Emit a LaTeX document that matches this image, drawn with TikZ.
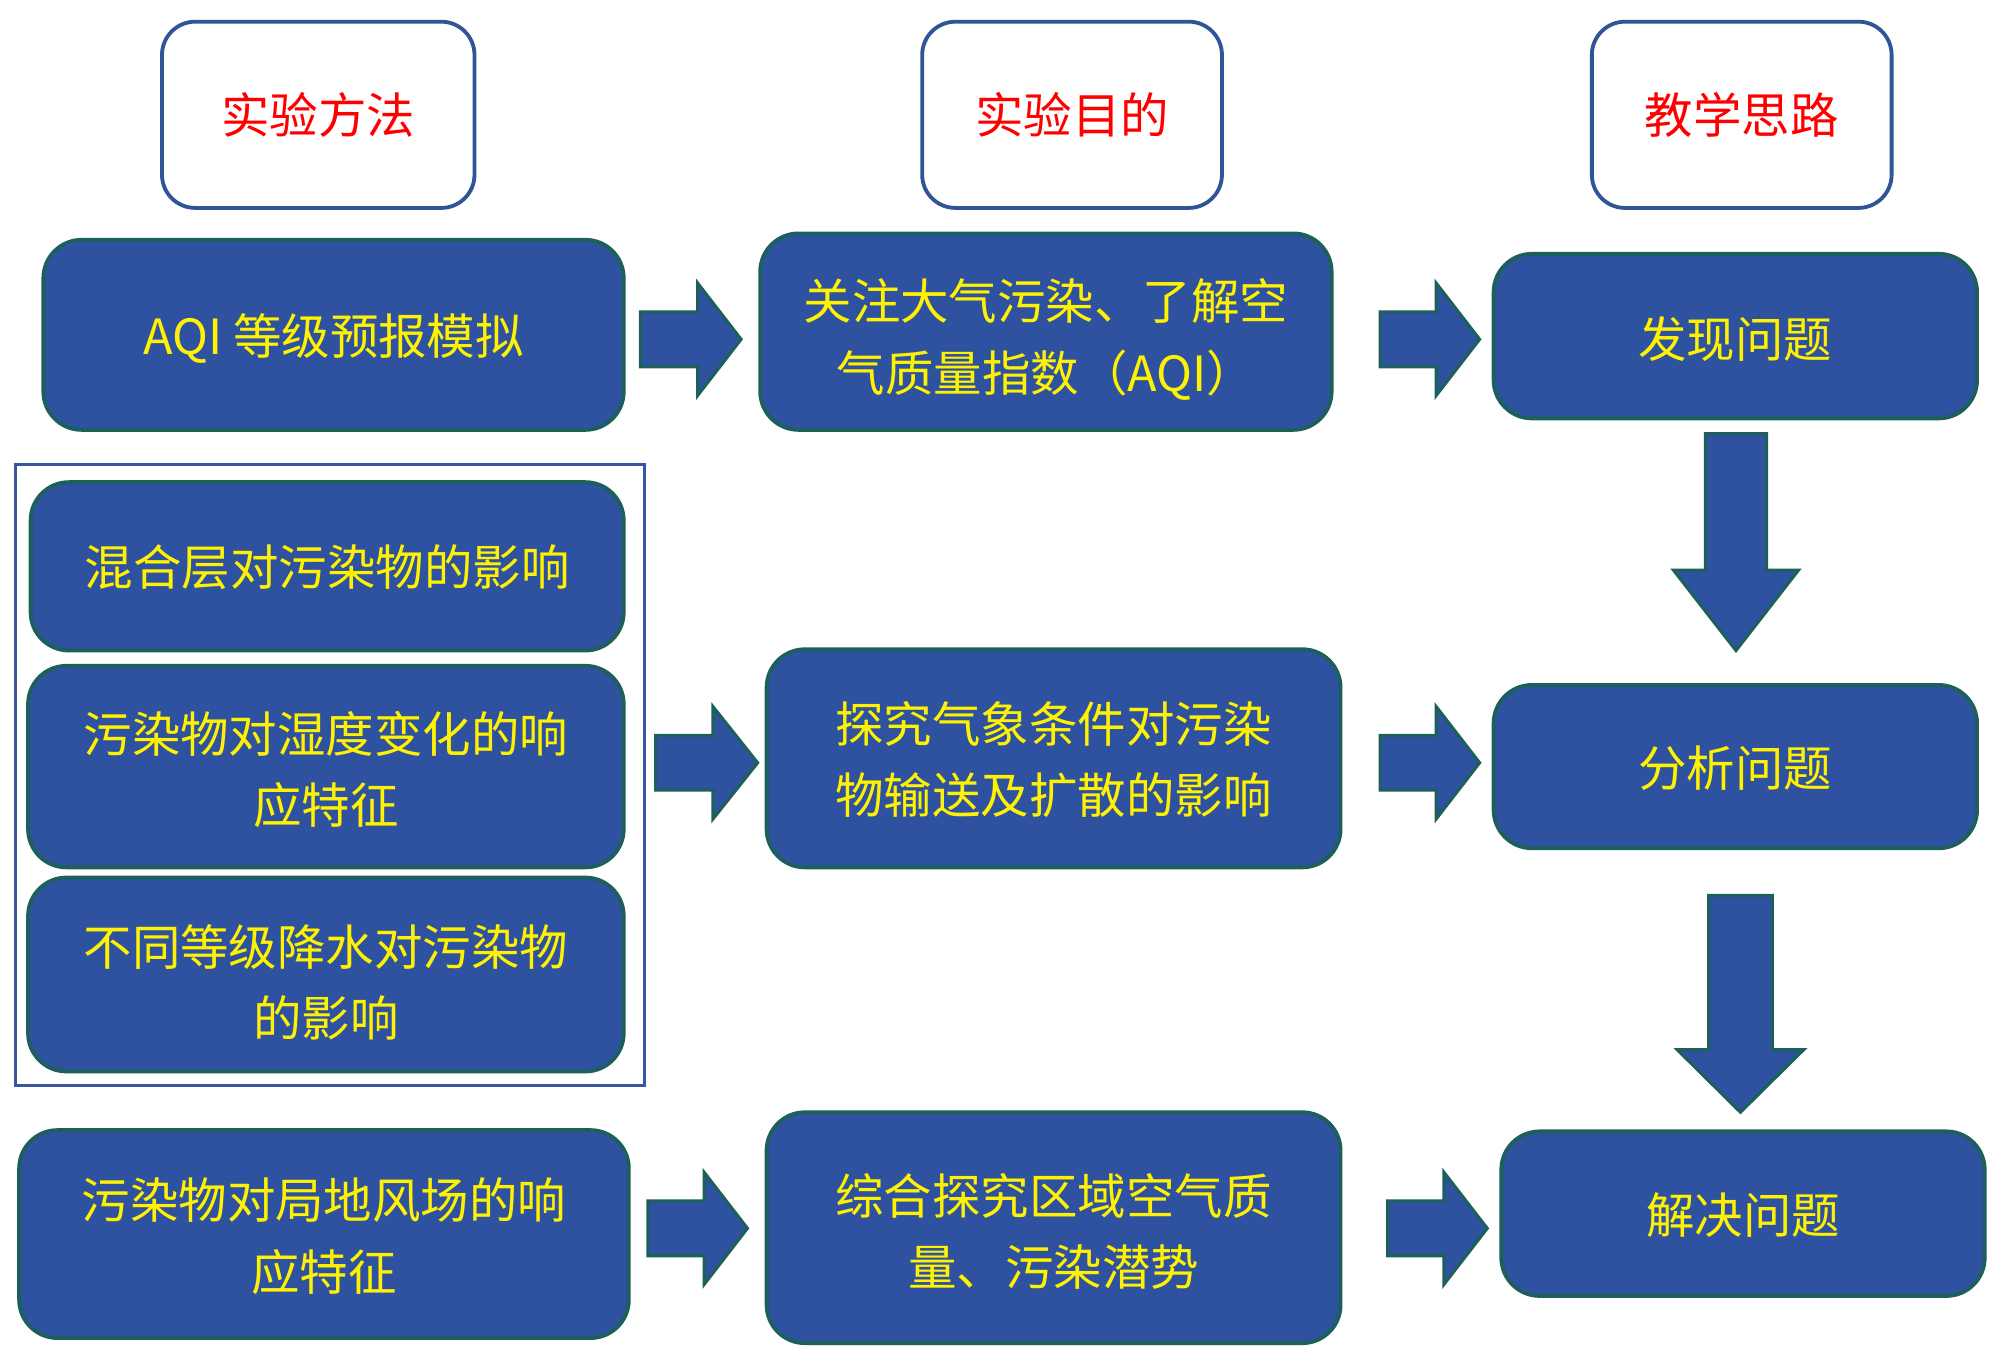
\documentclass[tikz,border=0pt]{standalone}
\usepackage{fontspec}
\newfontfamily\cjk{Noto Sans CJK SC}
\definecolor{boxfill}{HTML}{2F52A0}
\definecolor{boxline}{HTML}{1D5F5B}
\definecolor{headline}{HTML}{2F5597}
\definecolor{frameline}{HTML}{3A56A0}
\newcommand\rarr[4]{\draw[blk] (#1,{#3-21.5}) -- (#4,{#3-21.5}) -- (#4,{#3-44}) -- (#2,#3) -- (#4,{#3+44}) -- (#4,{#3+21.5}) -- (#1,{#3+21.5}) -- cycle;}
\newcommand\darr[6]{\draw[blk] ({#1-#2},#4) -- ({#1-#2},#6) -- ({#1-#3},#6) -- (#1,#5) -- ({#1+#3},#6) -- ({#1+#2},#6) -- ({#1+#2},#4) -- cycle;}
% name, cx, cy, width, height, text shift down (units), text
\newcommand\bnode[7]{%
  \node[bbox, minimum width=#4, minimum height=#5] (#1) at (#2,#3) {};
  \node[btxt] (#1-t) at ([yshift={-#6*0.5pt}]#1.center) {#7};}
\begin{document}
\begin{tikzpicture}[x=0.5pt,y=-0.5pt,
  txt/.style={font=\cjk\fontsize{19}{28}\selectfont, align=center, inner sep=0pt},
  head/.style={txt, draw=headline, line width=1.5pt, fill=white, rounded corners=13pt, text=red},
  bbox/.style={draw=boxline, line width=1.5pt, fill=boxfill, rounded corners=15pt, inner sep=0pt},
  btxt/.style={txt, text=yellow},
  blk/.style={draw=boxline, line width=1.2pt, fill=boxfill, line join=miter}]
\useasboundingbox (0,0) rectangle (1568,1073);
% headers
\node[head, minimum width=122.5pt, minimum height=73pt] (h1) at (249.5,90) {实验方法};
\node[head, minimum width=117.5pt, minimum height=73pt] (h2) at (840.5,90) {实验目的};
\node[head, minimum width=117.5pt, minimum height=73pt] (h3) at (1365.5,90) {教学思路};
% left frame
\draw[frameline, line width=1.2pt] (12,364) rectangle (505,851);
% row 1
\bnode{a1}{261.5}{262.5}{227.5pt}{74.5pt}{2.5}{AQI 等级预报模拟}
\bnode{a2}{820}{260}{224pt}{77pt}{6}{关注大气污染、了解空\\气质量指数（AQI）}
\bnode{a3}{1360.5}{263.5}{189.5pt}{64.5pt}{2}{发现问题}
% row 2
\bnode{l1}{256.5}{444}{232.5pt}{66pt}{1}{混合层对污染物的影响}
\bnode{l2}{255.5}{601}{233.5pt}{79pt}{2.5}{污染物对湿度变化的响\\应特征}
\bnode{l3}{255.5}{764}{233.5pt}{76pt}{6}{不同等级降水对污染物\\的影响}
\bnode{b2}{826}{594.5}{225pt}{85.5pt}{1}{探究气象条件对污染\\物输送及扩散的影响}
\bnode{b3}{1360.5}{601}{189.5pt}{64pt}{1}{分析问题}
% row 3
\bnode{c1}{254}{967.5}{239pt}{81.5pt}{1.5}{污染物对局地风场的响\\应特征}
\bnode{c2}{826}{962.5}{225pt}{90.5pt}{3}{综合探究区域空气质\\量、污染潜势}
\bnode{c3}{1366.5}{951.5}{189.5pt}{64.5pt}{1.5}{解决问题}
% block arrows
\rarr{502}{581}{266}{547}
\rarr{1082}{1160}{266}{1126}
\rarr{514}{594}{598}{559}
\rarr{1082}{1160}{598}{1126}
\rarr{508}{586}{963}{552}
\rarr{1088}{1166}{963}{1132}
\darr{1361}{24}{49}{340}{510}{447}
\darr{1364.5}{25}{49.5}{702}{872}{823}
\end{tikzpicture}
\end{document}
